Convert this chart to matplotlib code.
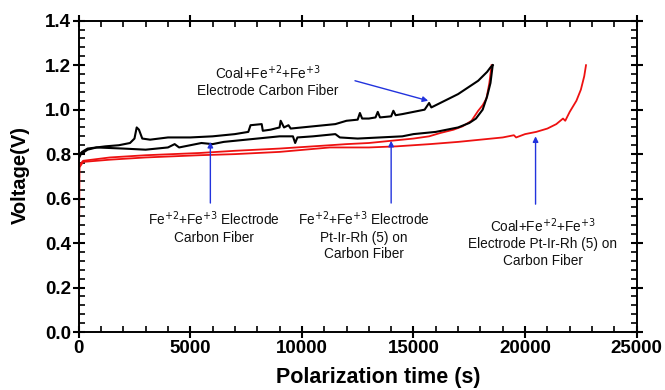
import matplotlib
matplotlib.use("Agg")
import matplotlib.pyplot as plt
from matplotlib.ticker import MultipleLocator

plt.rcParams['font.family'] = ['Liberation Sans', 'DejaVu Sans']

# Coal+Fe+2+Fe+3, Electrode Carbon Fiber (black, upper)
coal_cf_x = [0, 50, 150, 400, 800, 1200, 1800, 2300, 2500, 2600, 2700, 2850, 3200, 4000, 5000, 6000,
             7000, 7600, 7700, 8200, 8250, 8600, 9000, 9050, 9200, 9400, 9500, 10000, 10500, 11000,
             11500, 12000, 12500, 12600, 12700, 13000, 13300, 13400, 13500, 14000, 14100, 14200,
             14500, 15000, 15500, 15700, 15800, 16200, 16800, 17000, 17300, 17600, 17900, 18100,
             18300, 18450, 18550]
coal_cf_y = [0.78, 0.80, 0.81, 0.825, 0.83, 0.835, 0.84, 0.85, 0.87, 0.92, 0.91, 0.87, 0.865, 0.875,
             0.875, 0.88, 0.89, 0.90, 0.93, 0.935, 0.905, 0.91, 0.92, 0.95, 0.92, 0.93, 0.915, 0.92,
             0.925, 0.93, 0.935, 0.95, 0.955, 0.985, 0.96, 0.96, 0.965, 0.99, 0.965, 0.97, 0.995,
             0.975, 0.98, 0.99, 1.0, 1.03, 1.01, 1.03, 1.06, 1.07, 1.09, 1.11, 1.13, 1.15, 1.17,
             1.19, 1.20]

# Fe+2+Fe+3, Electrode Carbon Fiber (black, lower)
fe_cf_x = [0, 100, 400, 800, 2000, 3000, 4000, 4300, 4500, 5000, 5500, 6000, 6500, 7000, 7500, 8000,
           8500, 9000, 9600, 9700, 9800, 10500, 11000, 11500, 11700, 12500, 13500, 14500, 15000,
           15500, 16000, 16500, 17000, 17500, 17800, 18100, 18300, 18450, 18550]
fe_cf_y = [0.78, 0.80, 0.82, 0.83, 0.825, 0.82, 0.83, 0.845, 0.83, 0.84, 0.85, 0.845, 0.855, 0.86,
           0.865, 0.87, 0.875, 0.88, 0.88, 0.85, 0.875, 0.88, 0.885, 0.89, 0.875, 0.87, 0.875, 0.88,
           0.89, 0.895, 0.90, 0.91, 0.92, 0.94, 0.96, 1.00, 1.06, 1.12, 1.20]

# Fe+2+Fe+3, Electrode Pt-Ir-Rh (5) on Carbon Fiber (red, ends ~18500)
fe_pt_x = [0, 30, 200, 1400, 3000, 5400, 7000, 9000, 11260, 12000, 13000, 14000, 15000, 15700, 16200,
           16800, 17200, 17600, 17900, 18100, 18270, 18400, 18500]
fe_pt_y = [0.0, 0.75, 0.77, 0.785, 0.795, 0.805, 0.815, 0.825, 0.84, 0.845, 0.85, 0.86, 0.87, 0.88,
           0.895, 0.91, 0.925, 0.95, 0.995, 1.02, 1.05, 1.12, 1.20]

# Coal+Fe+2+Fe+3, Electrode Pt-Ir-Rh (5) on Carbon Fiber (red, ends ~22700)
coal_pt_x = [0, 30, 200, 1400, 3000, 5400, 7000, 9000, 11260, 13000, 14250, 15740, 17000, 18000,
             19000, 19500, 19600, 20000, 20500, 21000, 21400, 21700, 21800, 22000, 22300, 22500,
             22650, 22730]
coal_pt_y = [0.0, 0.74, 0.765, 0.775, 0.785, 0.795, 0.80, 0.81, 0.83, 0.83, 0.835, 0.845, 0.855,
             0.865, 0.875, 0.885, 0.875, 0.89, 0.90, 0.915, 0.935, 0.96, 0.95, 0.99, 1.04, 1.09,
             1.15, 1.20]

y_ticks = [0.0, 0.2, 0.4, 0.6, 0.8, 1.0, 1.2, 1.4]
y_tick_labels = ['0.0', '0.2', '0.4', '0.6', '0.8', '1.0', '1.2', '1.4']

fig = plt.figure(figsize=(6.65, 3.9), dpi=100)
ax = fig.add_axes([0.1183, 0.1487, 0.8391, 0.7982])

ax.plot(coal_pt_x, coal_pt_y, color='#ee1111', lw=1.3)
ax.plot(fe_pt_x, fe_pt_y, color='#ee1111', lw=1.3)
ax.plot(fe_cf_x, fe_cf_y, color='black', lw=1.5)
ax.plot(coal_cf_x, coal_cf_y, color='black', lw=1.5)

ax.set_xlim(0, 25000)
ax.set_ylim(0, 1.4)
ax.xaxis.set_major_locator(MultipleLocator(5000))
ax.xaxis.set_minor_locator(MultipleLocator(1000))
ax.set_yticks(y_ticks)
ax.set_yticklabels(y_tick_labels)
ax.yaxis.set_minor_locator(MultipleLocator(0.04))
ax.tick_params(which='major', direction='inout', length=9, width=1.5,
               top=True, right=True, labelsize=13.5, pad=1)
ax.tick_params(which='minor', direction='in', length=4.5, width=1.2, top=True, right=True)
for lab in ax.get_xticklabels() + ax.get_yticklabels():
    lab.set_fontweight('bold')
for s in ax.spines.values():
    s.set_linewidth(1.4)

ax.set_xlabel('Polarization time (s)', fontsize=15.5, fontweight='bold')
ax.set_ylabel('Voltage(V)', fontsize=14.5, fontweight='bold')
ax.xaxis.set_label_coords(0.536, -0.112)
ax.yaxis.set_label_coords(-0.088, 0.505)

blue = '#2233dd'
akw = dict(arrowstyle='-|>', color=blue, lw=1.0, mutation_scale=8, shrinkA=0, shrinkB=0)
ax.annotate('', xy=(15660, 1.04), xytext=(12380, 1.13), arrowprops=akw)
ax.annotate('', xy=(5900, 0.855), xytext=(5900, 0.58), arrowprops=akw)
ax.annotate('', xy=(14000, 0.86), xytext=(14000, 0.58), arrowprops=akw)
ax.annotate('', xy=(20470, 0.88), xytext=(20470, 0.575), arrowprops=akw)

tkw = dict(ha='center', va='center', fontsize=9.8, linespacing=1.25, color='#111111')
ax.text(8480, 1.13, 'Coal+Fe$^{+2}$+Fe$^{+3}$\nElectrode Carbon Fiber', **tkw)
ax.text(6070, 0.47, 'Fe$^{+2}$+Fe$^{+3}$ Electrode\nCarbon Fiber', **tkw)
ax.text(12790, 0.435, 'Fe$^{+2}$+Fe$^{+3}$ Electrode\nPt-Ir-Rh (5) on\nCarbon Fiber', **tkw)
ax.text(20780, 0.405, 'Coal+Fe$^{+2}$+Fe$^{+3}$\nElectrode Pt-Ir-Rh (5) on\nCarbon Fiber', **tkw)

fig.savefig('out.png', dpi=100)
